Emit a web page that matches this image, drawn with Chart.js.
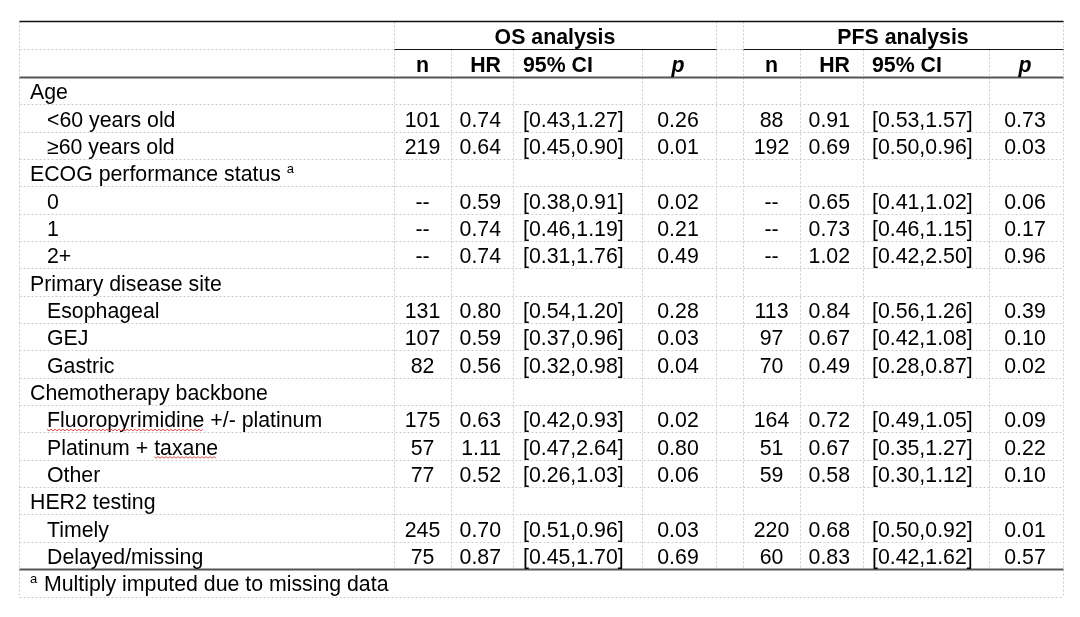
<!DOCTYPE html>
<html>
<head>
<meta charset="utf-8">
<script src="https://cdn.jsdelivr.net/npm/chart.js@4.4.0/dist/chart.umd.min.js"></script>
<style>
  html, body { margin: 0; padding: 0; background: #fff; }
  canvas { display: block; }
</style>
</head>
<body>
<canvas id="subgroupTable" width="1080" height="617"></canvas>
<script>
// Subgroup data
const rowLabels = [
    'Age', '<60 years old', '\u226560 years old',
    'ECOG performance status', '0', '1', '2+',
    'Primary disease site', 'Esophageal', 'GEJ', 'Gastric',
    'Chemotherapy backbone', 'Fluoropyrimidine +/- platinum', 'Platinum + taxane', 'Other',
    'HER2 testing', 'Timely', 'Delayed/missing'
];
const rowIndent = [0, 1, 1, 0, 1, 1, 1, 0, 1, 1, 1, 0, 1, 1, 1, 0, 1, 1];

const osN   = ['', '101', '219', '', '--', '--', '--', '', '131', '107', '82', '', '175', '57', '77', '', '245', '75'];
const osHR  = ['', '0.74', '0.64', '', '0.59', '0.74', '0.74', '', '0.80', '0.59', '0.56', '', '0.63', '1.11', '0.52', '', '0.70', '0.87'];
const osCI  = ['', '[0.43,1.27]', '[0.45,0.90]', '', '[0.38,0.91]', '[0.46,1.19]', '[0.31,1.76]', '',
               '[0.54,1.20]', '[0.37,0.96]', '[0.32,0.98]', '', '[0.42,0.93]', '[0.47,2.64]', '[0.26,1.03]', '',
               '[0.51,0.96]', '[0.45,1.70]'];
const osP   = ['', '0.26', '0.01', '', '0.02', '0.21', '0.49', '', '0.28', '0.03', '0.04', '', '0.02', '0.80', '0.06', '', '0.03', '0.69'];

const pfsN  = ['', '88', '192', '', '--', '--', '--', '', '113', '97', '70', '', '164', '51', '59', '', '220', '60'];
const pfsHR = ['', '0.91', '0.69', '', '0.65', '0.73', '1.02', '', '0.84', '0.67', '0.49', '', '0.72', '0.67', '0.58', '', '0.68', '0.83'];
const pfsCI = ['', '[0.53,1.57]', '[0.50,0.96]', '', '[0.41,1.02]', '[0.46,1.15]', '[0.42,2.50]', '',
               '[0.56,1.26]', '[0.42,1.08]', '[0.28,0.87]', '', '[0.49,1.05]', '[0.35,1.27]', '[0.30,1.12]', '',
               '[0.50,0.92]', '[0.42,1.62]'];
const pfsP  = ['', '0.73', '0.03', '', '0.06', '0.17', '0.96', '', '0.39', '0.10', '0.02', '', '0.09', '0.22', '0.10', '', '0.01', '0.57'];

const groupTitles = ['OS analysis', 'PFS analysis'];
const columnTitles = ['n', 'HR', '95% CI', 'p'];
const footnoteMark = 'a';
const footnoteText = 'Multiply imputed due to missing data';
const footnoteRows = [3];
const spellFlagged = [[12, 'Fluoropyrimidine'], [13, 'taxane']];

// Layout (scale units = canvas pixels)
const colEdges = [19, 394, 451, 513, 642, 716, 743, 800, 863, 989, 1063];
const tableTop = 21;
const headRowH = 28;
const bodyTop = 77;
const bodyRowH = 27.33;
const footRowH = 28;
const fontMain = '21.3px "Liberation Sans", Arial, sans-serif';
const fontBold = 'bold 21.3px "Liberation Sans", Arial, sans-serif';
const fontBoldItalic = 'italic bold 21.3px "Liberation Sans", Arial, sans-serif';
const fontSup = '13px "Liberation Sans", Arial, sans-serif';

// column anchors: [x, align] for n, HR, CI, p
const osCols = [[422.5, 'center'], [501, 'right'], [523, 'left'], [678, 'center']];
const pfsCols = [[771.5, 'center'], [850, 'right'], [872, 'left'], [1025, 'center']];

function bodyLine(i) {
    return bodyTop + i * bodyRowH;
}

const tablePlugin = {
    id: 'tablePlugin',
    afterDatasetsDraw(chart) {
        const { ctx, scales: { x, y } } = chart;
        const px = v => Math.round(x.getPixelForValue(v)) + 0.5;
        const py = v => Math.round(y.getPixelForValue(v)) + 0.5;
        const bottom = bodyLine(rowLabels.length);
        const footBottom = bottom + footRowH;

        function hLine(yv, x0, x1) {
            ctx.beginPath();
            ctx.moveTo(px(x0), py(yv));
            ctx.lineTo(px(x1), py(yv));
            ctx.stroke();
        }
        function vLine(xv, y0, y1) {
            ctx.beginPath();
            ctx.moveTo(px(xv), py(y0));
            ctx.lineTo(px(xv), py(y1));
            ctx.stroke();
        }

        ctx.save();
        // light dotted grid
        ctx.strokeStyle = '#cccccc';
        ctx.lineWidth = 1;
        ctx.setLineDash([2, 2]);
        const left = colEdges[0], right = colEdges[colEdges.length - 1];
        hLine(tableTop + headRowH, colEdges[0], colEdges[1]);
        hLine(tableTop + headRowH, colEdges[5], colEdges[6]);
        for (let i = 1; i < rowLabels.length; i++) hLine(bodyLine(i), left, right);
        hLine(footBottom, left, right);
        vLine(left, tableTop, footBottom);
        vLine(right, tableTop, footBottom);
        [1, 5, 6].forEach(c => vLine(colEdges[c], tableTop, bottom));
        [2, 3, 4, 7, 8, 9].forEach(c => vLine(colEdges[c], tableTop + headRowH, bottom));

        // solid rules
        ctx.setLineDash([]);
        ctx.strokeStyle = '#111';
        ctx.lineWidth = 1.5;
        hLine(tableTop, left, right);
        ctx.lineWidth = 1;
        hLine(tableTop + headRowH, colEdges[1], colEdges[5]);
        hLine(tableTop + headRowH, colEdges[6], right);
        ctx.strokeStyle = '#555';
        ctx.lineWidth = 2;
        hLine(bodyTop, left, right);
        hLine(bottom, left, right);

        // text
        ctx.fillStyle = '#000';
        ctx.textBaseline = 'alphabetic';
        function text(str, xv, baseV, align, font) {
            ctx.font = font;
            ctx.textAlign = align;
            ctx.fillText(str, x.getPixelForValue(xv), y.getPixelForValue(baseV));
        }

        // header rows
        const head1Base = tableTop + headRowH - 5.5;
        const head2Base = tableTop + 2 * headRowH - 5.5;
        text(groupTitles[0], (colEdges[1] + colEdges[5]) / 2, head1Base, 'center', fontBold);
        text(groupTitles[1], (colEdges[6] + colEdges[10]) / 2, head1Base, 'center', fontBold);
        [osCols, pfsCols].forEach(cols => {
            cols.forEach((c, j) => {
                const isP = j === 3;
                text(columnTitles[j], c[0], head2Base, c[1], isP ? fontBoldItalic : fontBold);
            });
        });

        // body rows
        rowLabels.forEach((label, i) => {
            const base = bodyLine(i + 1) - 5;
            const lx = rowIndent[i] ? 47 : 30;
            text(label, lx, base, 'left', fontMain);
            if (footnoteRows.includes(i)) {
                ctx.font = fontMain;
                const w = ctx.measureText(label + ' ').width;
                text(footnoteMark, lx + w, base - 8, 'left', fontSup);
            }
            [[osN, osHR, osCI, osP, osCols], [pfsN, pfsHR, pfsCI, pfsP, pfsCols]].forEach(set => {
                const cols = set[4];
                for (let j = 0; j < 4; j++) {
                    if (set[j][i]) text(set[j][i], cols[j][0], base, cols[j][1], fontMain);
                }
            });
        });

        // spell-check squiggles
        ctx.strokeStyle = '#e05050';
        ctx.lineWidth = 1;
        spellFlagged.forEach(([row, word]) => {
            ctx.font = fontMain;
            const label = rowLabels[row];
            const start = 47 + ctx.measureText(label.slice(0, label.indexOf(word))).width;
            const end = start + ctx.measureText(word).width;
            const sy = y.getPixelForValue(bodyLine(row + 1) - 5) + 2.5;
            ctx.beginPath();
            for (let xx = start, k = 0; xx <= end; xx += 2, k++) {
                const yy = sy + (k % 2 ? 1 : -0.5);
                if (k === 0) ctx.moveTo(x.getPixelForValue(xx), yy);
                else ctx.lineTo(x.getPixelForValue(xx), yy);
            }
            ctx.stroke();
        });

        // footnote
        const footBase = footBottom - 5.5;
        text(footnoteMark, 30, footBase - 8, 'left', fontSup);
        text(footnoteText, 44, footBase, 'left', fontMain);
        ctx.restore();
    }
};

const ctx = document.getElementById('subgroupTable').getContext('2d');
const subgroupTable = new Chart(ctx, {
    type: 'scatter',
    data: {
        datasets: [{
            data: [],
            pointRadius: 0
        }]
    },
    options: {
        responsive: false,
        animation: false,
        layout: { padding: 0 },
        plugins: {
            legend: { display: false },
            tooltip: { enabled: false }
        },
        scales: {
            x: { type: 'linear', min: 0, max: 1080, display: false },
            y: { type: 'linear', min: 0, max: 617, reverse: true, display: false }
        }
    },
    plugins: [tablePlugin]
});
</script>
</body>
</html>
